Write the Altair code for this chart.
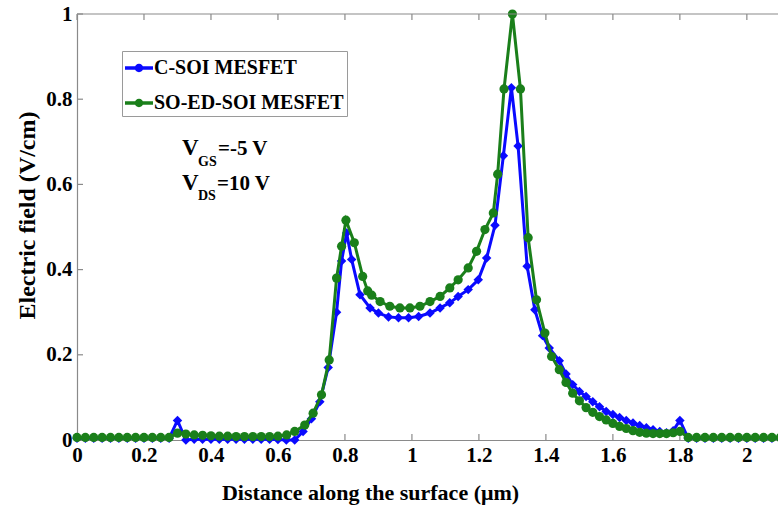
import altair as alt
import pandas as pd

# ---------------- data ----------------
x_csoi = [
    0.000, 0.025, 0.050, 0.075, 0.100, 0.125, 0.150, 0.175, 0.200, 0.225, 0.250, 0.275,
    0.300, 0.325, 0.350, 0.375, 0.400, 0.425, 0.450, 0.475, 0.500, 0.525, 0.550, 0.575,
    0.600, 0.625, 0.650, 0.675, 0.700, 0.725, 0.750, 0.775, 0.790, 0.805, 0.820, 0.845,
    0.875, 0.900, 0.930, 0.960, 0.990, 1.020, 1.054, 1.084, 1.113, 1.138, 1.168, 1.198,
    1.223, 1.248, 1.273, 1.297, 1.317, 1.344, 1.367, 1.390, 1.410, 1.440, 1.460, 1.480,
    1.500, 1.520, 1.540, 1.560, 1.580, 1.600, 1.620, 1.640, 1.660, 1.680, 1.700, 1.720,
    1.740, 1.760, 1.780, 1.800, 1.825, 1.850, 1.875, 1.900, 1.925, 1.950, 1.975, 2.000,
    2.025, 2.050, 2.075, 2.100,
]
y_csoi = [
    0.004, 0.004, 0.004, 0.004, 0.004, 0.004, 0.004, 0.004, 0.004, 0.004, 0.004, 0.004,
    0.046, 0.000, 0.002, 0.002, 0.002, 0.002, 0.002, 0.002, 0.002, 0.002, 0.002, 0.002,
    0.001, 0.000, 0.000, 0.020, 0.050, 0.090, 0.170, 0.300, 0.420, 0.486, 0.424, 0.341,
    0.310, 0.298, 0.289, 0.287, 0.287, 0.290, 0.298, 0.310, 0.322, 0.337, 0.353, 0.376,
    0.427, 0.504, 0.667, 0.827, 0.690, 0.408, 0.306, 0.245, 0.216, 0.186, 0.155, 0.130,
    0.114, 0.102, 0.090, 0.078, 0.067, 0.060, 0.053, 0.046, 0.040, 0.034, 0.029, 0.024,
    0.020, 0.017, 0.022, 0.046, 0.004, 0.004, 0.004, 0.004, 0.004, 0.004, 0.004, 0.004,
    0.004, 0.004, 0.004, 0.004,
]
x_soed = [
    0.000, 0.025, 0.050, 0.075, 0.100, 0.125, 0.150, 0.175, 0.200, 0.225, 0.250, 0.275,
    0.300, 0.325, 0.350, 0.375, 0.400, 0.425, 0.450, 0.475, 0.500, 0.525, 0.550, 0.575,
    0.600, 0.626, 0.650, 0.680, 0.705, 0.730, 0.753, 0.775, 0.790, 0.803, 0.828, 0.853,
    0.868, 0.880, 0.905, 0.934, 0.964, 0.994, 1.024, 1.054, 1.084, 1.113, 1.138, 1.168,
    1.193, 1.218, 1.243, 1.256, 1.275, 1.300, 1.324, 1.347, 1.372, 1.397, 1.417, 1.440,
    1.460, 1.480, 1.500, 1.520, 1.540, 1.560, 1.580, 1.600, 1.620, 1.640, 1.660, 1.680,
    1.700, 1.720, 1.740, 1.760, 1.780, 1.800, 1.825, 1.850, 1.875, 1.900, 1.925, 1.950,
    1.975, 2.000, 2.025, 2.050, 2.075, 2.100,
]
y_soed = [
    0.006, 0.006, 0.006, 0.006, 0.006, 0.006, 0.006, 0.006, 0.006, 0.006, 0.006, 0.006,
    0.016, 0.014, 0.012, 0.011, 0.010, 0.009, 0.009, 0.008, 0.008, 0.008, 0.008, 0.008,
    0.009, 0.012, 0.020, 0.035, 0.063, 0.106, 0.188, 0.380, 0.455, 0.516, 0.463, 0.384,
    0.350, 0.340, 0.325, 0.314, 0.310, 0.310, 0.314, 0.325, 0.337, 0.357, 0.376, 0.404,
    0.443, 0.494, 0.533, 0.624, 0.824, 1.000, 0.824, 0.475, 0.329, 0.251, 0.196, 0.165,
    0.135, 0.110, 0.092, 0.076, 0.065, 0.055, 0.047, 0.039, 0.032, 0.027, 0.022, 0.018,
    0.016, 0.015, 0.015, 0.015, 0.017, 0.020, 0.006, 0.006, 0.006, 0.006, 0.006, 0.006,
    0.006, 0.006, 0.006, 0.006, 0.006, 0.006,
]
series_names = ["C-SOI MESFET", "SO-ED-SOI MESFET"]
series_colors = ["#0a0aff", "#1a7f1a"]
x_ticks = [0, 0.2, 0.4, 0.6, 0.8, 1, 1.2, 1.4, 1.6, 1.8, 2]
y_ticks = [0, 0.2, 0.4, 0.6, 0.8, 1]

# ---------------- chart ----------------
FONT = "Liberation Serif"
W, H = 701, 426

df_c = pd.DataFrame({"x": x_csoi, "y": y_csoi, "series": series_names[0]})
df_s = pd.DataFrame({"x": x_soed, "y": y_soed, "series": series_names[1]})

xscale = alt.Scale(domain=[0, 2.093], nice=False, zero=False)
yscale = alt.Scale(domain=[0, 1], nice=False, zero=False)

xaxis = alt.Axis(
    values=x_ticks, format="~g", title="Distance along the surface (μm)", grid=False,
    ticks=False, domainColor="#8a8a8a", domainWidth=1.2, labelFont=FONT, labelFontSize=21,
    labelFontWeight="bold", labelColor="black", labelPadding=4, labelFlush=False,
    labelOverlap=False, titleFont=FONT, titleFontSize=22, titleFontWeight="bold",
    titleColor="black", titleX=293, titleY=52, titleBaseline="middle", titleAlign="center",
)
yaxis = alt.Axis(
    values=y_ticks, format="~g", title="Electric field (V/cm)", grid=False,
    ticks=False, domainColor="#8a8a8a", domainWidth=1.2, labelFont=FONT, labelFontSize=21,
    labelFontWeight="bold", labelColor="black", labelPadding=5, labelFlush=False,
    labelOverlap=False, titleFont=FONT, titleFontSize=24, titleFontWeight="bold",
    titleColor="black", titleX=-50, titleY=201, titleAngle=270, titleBaseline="middle",
    titleAlign="center",
)

legend_path = ("M-1,-0.12 L1,-0.12 L1,0.12 L-1,0.12 Z "
               "M-0.3,0 A0.3,0.3 0 1,1 0.3,0 A0.3,0.3 0 1,1 -0.3,0 Z")
color_scale = alt.Scale(domain=series_names, range=series_colors)
legend = alt.Legend(
    title=None, orient="none", legendX=45, legendY=37, symbolType=legend_path,
    symbolSize=784, symbolStrokeWidth=0, labelFont=FONT, labelFontSize=20,
    labelFontWeight="bold", labelColor="black", labelOffset=1, padding=3, rowPadding=11,
    strokeColor="#9a9a9a", fillColor="white", labelLimit=400,
)


def xenc(field="x"):
    return alt.X(f"{field}:Q", scale=xscale, axis=xaxis)


def yenc(field="y"):
    return alt.Y(f"{field}:Q", scale=yscale, axis=yaxis)


def line_layer(df, color):
    return alt.Chart(df).mark_line(strokeWidth=3, color=color).encode(x=xenc(), y=yenc())


def point_layer(df, shape, size):
    return alt.Chart(df).mark_point(filled=True, shape=shape, size=size, opacity=1).encode(
        x=xenc(), y=yenc(),
        color=alt.Color("series:N", scale=color_scale, legend=legend),
    )


xt = pd.DataFrame({"x": x_ticks})
yt = pd.DataFrame({"y": y_ticks})
bottom_ticks = alt.Chart(xt).mark_rule(color="#8a8a8a", strokeWidth=1.2).encode(
    x=xenc(), y=alt.value(H), y2=alt.value(H - 6))
top_ticks = alt.Chart(xt).mark_rule(color="#8a8a8a", strokeWidth=1.2).encode(
    x=xenc(), y=alt.value(0), y2=alt.value(6))
left_ticks = alt.Chart(yt).mark_rule(color="#8a8a8a", strokeWidth=1.2).encode(
    y=yenc(), x=alt.value(0), x2=alt.value(6))
top_border = alt.Chart(pd.DataFrame({"a": [0]})).mark_rule(
    color="#8a8a8a", strokeWidth=1.2).encode(x=alt.value(0), x2=alt.value(W), y=alt.value(0))


def txt(s, x, y, size):
    return alt.Chart(pd.DataFrame({"a": [0]})).mark_text(
        text=s, font=FONT, fontSize=size, fontWeight="bold", align="left",
        baseline="alphabetic", color="black",
    ).encode(x=alt.value(x), y=alt.value(y))


annotations = [
    txt("V", 105, 141, 23), txt("GS", 121, 152, 14), txt("=-5 V", 141, 141, 21),
    txt("V", 105, 176, 23), txt("DS", 121, 186, 14), txt("=10 V", 140, 176, 21),
]

chart = alt.layer(
    bottom_ticks, top_ticks, left_ticks,
    line_layer(df_c, series_colors[0]), point_layer(df_c, "diamond", 90),
    line_layer(df_s, series_colors[1]), point_layer(df_s, "circle", 85),
    top_border, *annotations,
).properties(
    width=W, height=H,
    autosize=alt.AutoSizeParams(type="none"),
    padding={"left": 77, "top": 14, "right": 0, "bottom": 68},
    background="white",
).configure_view(stroke=None)

chart.save("out.html", embed_options={"renderer": "svg", "actions": False})
